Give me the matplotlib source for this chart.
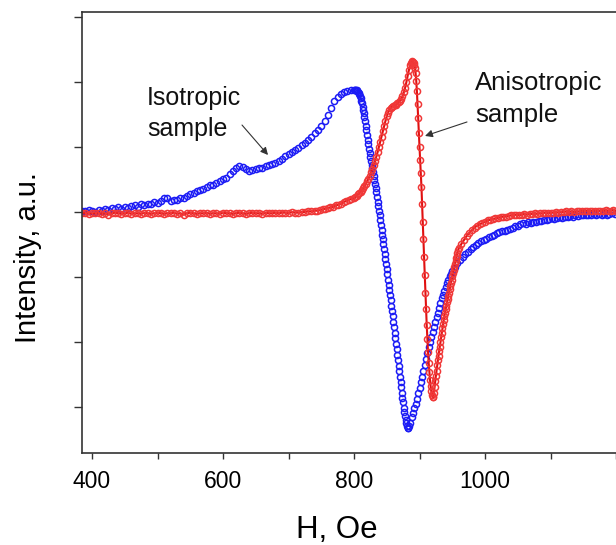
import matplotlib
matplotlib.use("Agg")
import matplotlib.pyplot as plt
from matplotlib.ticker import MultipleLocator

# Isotropic sample (blue), field in Oe / intensity in a.u.
blue_h_1 = [385, 390, 395, 400, 405, 410, 415, 420, 425, 430, 435, 440, 445, 450, 455,
            460, 465, 470, 475, 480, 485, 490, 495, 500, 505, 510, 515, 520, 525, 530,
            535, 540, 545, 550, 555, 560, 565, 570, 575, 580, 585, 590, 595, 600, 605,
            610, 615, 620, 625, 630, 635, 640, 645, 650, 655, 660, 665, 670, 675, 680,
            685, 690, 695, 700, 705, 710, 715, 720, 725, 730, 735, 740, 745, 750, 755,
            760, 765, 770, 775, 780, 785, 790, 795, 800]
blue_i_1 = [0.02, 0.01, 0.03, 0.02, 0.00, 0.03, 0.02, 0.05, 0.03, 0.06,
            0.04, 0.07, 0.05, 0.08, 0.06, 0.09, 0.10, 0.08, 0.12, 0.11,
            0.13, 0.12, 0.15, 0.14, 0.17, 0.21, 0.22, 0.17, 0.19, 0.18,
            0.22, 0.21, 0.25, 0.27, 0.29, 0.32, 0.34, 0.36, 0.38, 0.41,
            0.42, 0.44, 0.47, 0.50, 0.53, 0.58, 0.63, 0.68, 0.71, 0.69,
            0.66, 0.63, 0.64, 0.66, 0.68, 0.67, 0.70, 0.72, 0.74, 0.76,
            0.79, 0.82, 0.86, 0.89, 0.92, 0.96, 0.99, 1.03, 1.06, 1.10,
            1.15, 1.21, 1.26, 1.32, 1.40, 1.49, 1.60, 1.70, 1.77, 1.82,
            1.84, 1.86, 1.87, 1.88]

blue_h_2 = [801, 802, 803, 804, 805, 806, 807, 808, 809, 810, 811, 812, 813, 814, 815,
            816, 817, 818, 819, 820, 821, 822, 823, 824, 825, 826, 827, 828, 829, 830,
            831, 832, 833, 834, 835, 836, 837, 838, 839, 840, 841, 842, 843, 844, 845,
            846, 847, 848, 849, 850, 851, 852, 853, 854, 855, 856, 857, 858, 859, 860,
            861, 862, 863, 864, 865, 866, 867, 868, 869, 870, 871, 872, 873, 874, 875,
            876, 877, 878, 879, 880, 881, 882, 883, 884]
blue_i_2 = [1.88, 1.88, 1.87, 1.87, 1.86, 1.85, 1.83, 1.81, 1.78, 1.75,
            1.71, 1.67, 1.62, 1.57, 1.52, 1.46, 1.40, 1.33, 1.26, 1.19,
            1.11, 1.04, 0.97, 0.91, 0.85, 0.79, 0.73, 0.67, 0.61, 0.55,
            0.49, 0.43, 0.37, 0.30, 0.23, 0.16, 0.09, 0.02, -0.05, -0.12,
            -0.20, -0.27, -0.35, -0.42, -0.50, -0.57, -0.65, -0.72, -0.80, -0.88,
            -0.96, -1.04, -1.12, -1.20, -1.28, -1.36, -1.44, -1.52, -1.60, -1.69,
            -1.77, -1.86, -1.94, -2.03, -2.11, -2.20, -2.28, -2.37, -2.45, -2.54,
            -2.62, -2.70, -2.78, -2.86, -2.93, -3.01, -3.08, -3.14, -3.20, -3.25,
            -3.29, -3.32, -3.32, -3.30]

blue_h_3 = [886, 888, 890, 892, 894, 896, 898, 900, 902, 904, 906, 908, 910, 912, 914,
            916, 918, 920, 922, 924, 926, 928, 930, 932, 934, 936, 938, 940, 942, 944,
            946, 948, 950]
blue_i_3 = [-3.24, -3.16, -3.09, -3.02, -2.95, -2.87, -2.79, -2.71, -2.62, -2.54,
            -2.45, -2.36, -2.26, -2.17, -2.08, -2.00, -1.92, -1.85, -1.77, -1.70,
            -1.62, -1.55, -1.47, -1.40, -1.33, -1.27, -1.21, -1.15, -1.09, -1.04,
            -0.99, -0.95, -0.91]

blue_h_4 = [954, 958, 962, 966, 970, 974, 978, 982, 986, 990, 994, 998, 1002, 1006, 1010,
            1014, 1018, 1022, 1026, 1030, 1034, 1038, 1042, 1046, 1050, 1054, 1058, 1062,
            1066, 1070, 1074, 1078, 1082, 1086, 1090, 1094, 1098, 1102, 1106, 1110, 1114,
            1118, 1122, 1126, 1130, 1134, 1138, 1142, 1146, 1150, 1154, 1158, 1162, 1166,
            1170, 1174, 1178, 1182, 1186, 1190, 1194, 1198]
blue_i_4 = [-0.85, -0.79, -0.74, -0.69, -0.65, -0.61, -0.57, -0.54, -0.51, -0.48,
            -0.45, -0.43, -0.41, -0.39, -0.37, -0.35, -0.33, -0.31, -0.30, -0.29,
            -0.28, -0.26, -0.24, -0.22, -0.21, -0.19, -0.17, -0.18, -0.16, -0.17,
            -0.15, -0.16, -0.14, -0.14, -0.12, -0.13, -0.11, -0.10, -0.11, -0.09,
            -0.08, -0.09, -0.07, -0.08, -0.06, -0.07, -0.05, -0.06, -0.05, -0.04,
            -0.05, -0.04, -0.05, -0.03, -0.04, -0.03, -0.04, -0.03, -0.04, -0.03,
            -0.02, -0.03]

# Anisotropic sample (red)
red_h_1 = [385, 390, 395, 400, 405, 410, 415, 420, 425, 430, 435, 440, 445, 450, 455,
           460, 465, 470, 475, 480, 485, 490, 495, 500, 505, 510, 515, 520, 525, 530,
           535, 540, 545, 550, 555, 560, 565, 570, 575, 580, 585, 590, 595, 600, 605,
           610, 615, 620, 625, 630, 635, 640, 645, 650, 655, 660, 665, 670, 675, 680,
           685, 690, 695, 700, 705, 710, 715, 720, 725, 730, 735]
red_i_1 = [-0.02, -0.01, -0.03, -0.02, -0.02, -0.01, -0.03, -0.02, -0.04, -0.02,
           -0.01, -0.02, -0.03, -0.02, -0.01, -0.03, -0.02, -0.02, -0.03, -0.01,
           -0.02, -0.03, -0.02, -0.01, -0.02, -0.03, -0.02, -0.02, -0.01, -0.03,
           -0.02, -0.04, -0.02, -0.01, -0.02, -0.03, -0.02, -0.02, -0.01, -0.03,
           -0.02, -0.02, -0.03, -0.01, -0.02, -0.02, -0.03, -0.02, -0.01, -0.02,
           -0.03, -0.02, -0.01, -0.02, -0.02, -0.03, -0.01, -0.02, -0.02, -0.01,
           -0.02, -0.01, -0.01, -0.02, 0.00, -0.01, -0.01, 0.00, 0.00, 0.01,
           0.01]

red_h_2 = [740, 744, 748, 752, 756, 760, 764, 768, 772, 776, 780, 784, 788, 792, 796]
red_i_2 = [0.02, 0.02, 0.03, 0.04, 0.05, 0.06, 0.07, 0.08, 0.10, 0.11,
           0.13, 0.15, 0.17, 0.19, 0.20]

red_h_3 = [800, 802, 804, 806, 808, 810, 812, 814, 816, 818, 820, 822, 824, 826, 828,
           830, 832, 834, 836, 838, 840, 842, 844, 846, 848, 850, 852, 854, 856, 858,
           860, 862, 864, 866, 868, 870, 872, 874, 876, 878, 880, 882, 884, 886]
red_i_3 = [0.22, 0.23, 0.25, 0.27, 0.29, 0.31, 0.34, 0.37, 0.40, 0.43,
           0.47, 0.51, 0.56, 0.61, 0.66, 0.72, 0.78, 0.85, 0.92, 1.00,
           1.08, 1.16, 1.24, 1.32, 1.40, 1.47, 1.53, 1.57, 1.60, 1.62,
           1.63, 1.64, 1.65, 1.67, 1.69, 1.71, 1.74, 1.78, 1.84, 1.91,
           2.00, 2.10, 2.19, 2.26]

red_h_4 = [887, 888, 889, 890, 891, 892, 893, 894, 895, 896, 897, 898, 899, 900, 901,
           902, 903, 904, 905, 906, 907, 908, 909, 910, 911, 912, 913, 914, 915, 916,
           917, 918, 919, 920, 921, 922, 923, 924, 925, 926, 927, 928, 929, 930, 931,
           932, 933, 934, 935, 936, 937, 938, 939, 940, 941, 942, 943, 944, 945, 946,
           947, 948, 949, 950, 951, 952, 953, 954, 955, 956, 957, 958, 959, 960]
red_i_4 = [2.29, 2.31, 2.32, 2.31, 2.29, 2.26, 2.22, 2.14, 2.02, 1.86,
           1.66, 1.44, 1.21, 1.00, 0.80, 0.60, 0.38, 0.12, -0.15, -0.42,
           -0.70, -0.97, -1.24, -1.50, -1.74, -1.96, -2.15, -2.32, -2.46, -2.58,
           -2.68, -2.76, -2.81, -2.84, -2.85, -2.78, -2.69, -2.60, -2.52, -2.44,
           -2.36, -2.28, -2.21, -2.14, -2.07, -2.00, -1.93, -1.86, -1.79, -1.72,
           -1.66, -1.60, -1.55, -1.49, -1.44, -1.39, -1.34, -1.29, -1.24, -1.19,
           -1.14, -1.09, -1.04, -0.99, -0.94, -0.89, -0.85, -0.80, -0.76, -0.71,
           -0.67, -0.63, -0.59, -0.56]

red_h_5 = [964, 968, 972, 976, 980, 984, 988, 992, 996, 1000, 1004, 1008, 1012, 1016,
           1020, 1024, 1028, 1032, 1036, 1040, 1044, 1048, 1052, 1056, 1060, 1064, 1068,
           1072, 1076, 1080, 1084, 1088, 1092, 1096, 1100, 1104, 1108, 1112, 1116, 1120,
           1124, 1128, 1132, 1136, 1140, 1144, 1148, 1152, 1156, 1160, 1164, 1168, 1172,
           1176, 1180, 1184, 1188, 1192, 1196, 1200]
red_i_5 = [-0.49, -0.43, -0.37, -0.32, -0.28, -0.24, -0.21, -0.19, -0.17, -0.15,
           -0.13, -0.12, -0.11, -0.10, -0.09, -0.08, -0.07, -0.07, -0.06, -0.05,
           -0.05, -0.04, -0.05, -0.04, -0.03, -0.04, -0.03, -0.03, -0.02, -0.03,
           -0.02, -0.02, -0.01, -0.02, -0.01, -0.01, 0.00, -0.01, 0.00, 0.00,
           0.01, 0.00, 0.01, 0.00, 0.01, 0.01, 0.02, 0.01, 0.02, 0.01,
           0.02, 0.02, 0.01, 0.02, 0.02, 0.03, 0.02, 0.02, 0.03, 0.02]

x_major = [400, 600, 800, 1000]
y_ticks = [-3, -2, -1, 0, 1, 2, 3]


def join(*parts):
    out = []
    for p in parts:
        out += p
    return out


blue_h = join(blue_h_1, blue_h_2, blue_h_3, blue_h_4)
blue_i = join(blue_i_1, blue_i_2, blue_i_3, blue_i_4)
red_h = join(red_h_1, red_h_2, red_h_3, red_h_4, red_h_5)
red_i = join(red_i_1, red_i_2, red_i_3, red_i_4, red_i_5)
assert len(blue_h) == len(blue_i) and len(red_h) == len(red_i)

plt.rcParams['font.family'] = ['Liberation Sans', 'DejaVu Sans']

W, H = 616, 545
fig = plt.figure(figsize=(W / 100, H / 100), dpi=100)
ax = fig.add_axes([82 / W, 1 - 453 / H, 1 - 82 / W, (453 - 12) / H])

ax.plot(blue_h, blue_i, ls='none', marker='o', ms=4.4, mfc='none',
        mec='#1c1cf5', mew=1.1)
ax.plot(red_h, red_i, '-', color='#e01010', lw=1.5, marker='o', ms=4.4,
        mfc='none', mec='#f03838', mew=1.1)

ax.set_xlim(384.7, 1200)
ax.set_ylim(-3.708, 3.077)

ax.set_xticks(x_major)
ax.xaxis.set_minor_locator(MultipleLocator(100))
ax.set_yticks(y_ticks)
ax.set_yticklabels([])
ax.tick_params(axis='x', which='both', direction='out', length=4.3, width=1,
               color='#333333', labelsize=16.5, pad=8)
ax.tick_params(axis='y', direction='out', length=6, width=1, color='#333333')

for side in ['left', 'bottom', 'top']:
    ax.spines[side].set_color('#333333')
    ax.spines[side].set_linewidth(1.2)
ax.spines['right'].set_visible(False)

fig.text(337 / W, 1 - 538 / H, "H, Oe", ha='center', va='baseline', fontsize=22.5)
fig.text(28 / W, 1 - 258 / H, "Intensity, a.u.", rotation=90, ha='center',
         va='center', fontsize=21)

# annotations
ax.text(484, 1.646, "Isotropic", fontsize=18, va='baseline', color='#111111')
ax.text(484, 1.17, "sample", fontsize=18, va='baseline', color='#111111')
ax.text(984.7, 1.877, "Anisotropic", fontsize=18.5, va='baseline', color='#111111')
ax.text(984.7, 1.39, "sample", fontsize=18.5, va='baseline', color='#111111')

arrow = dict(arrowstyle='-|>', color='#333333', lw=0.8, mutation_scale=11,
             shrinkA=0, shrinkB=0)
ax.annotate('', xy=(668.7, 0.877), xytext=(629, 1.338), arrowprops=arrow)
ax.annotate('', xy=(908.4, 1.17), xytext=(972.5, 1.385), arrowprops=arrow)

fig.savefig('out.png', dpi=100)
